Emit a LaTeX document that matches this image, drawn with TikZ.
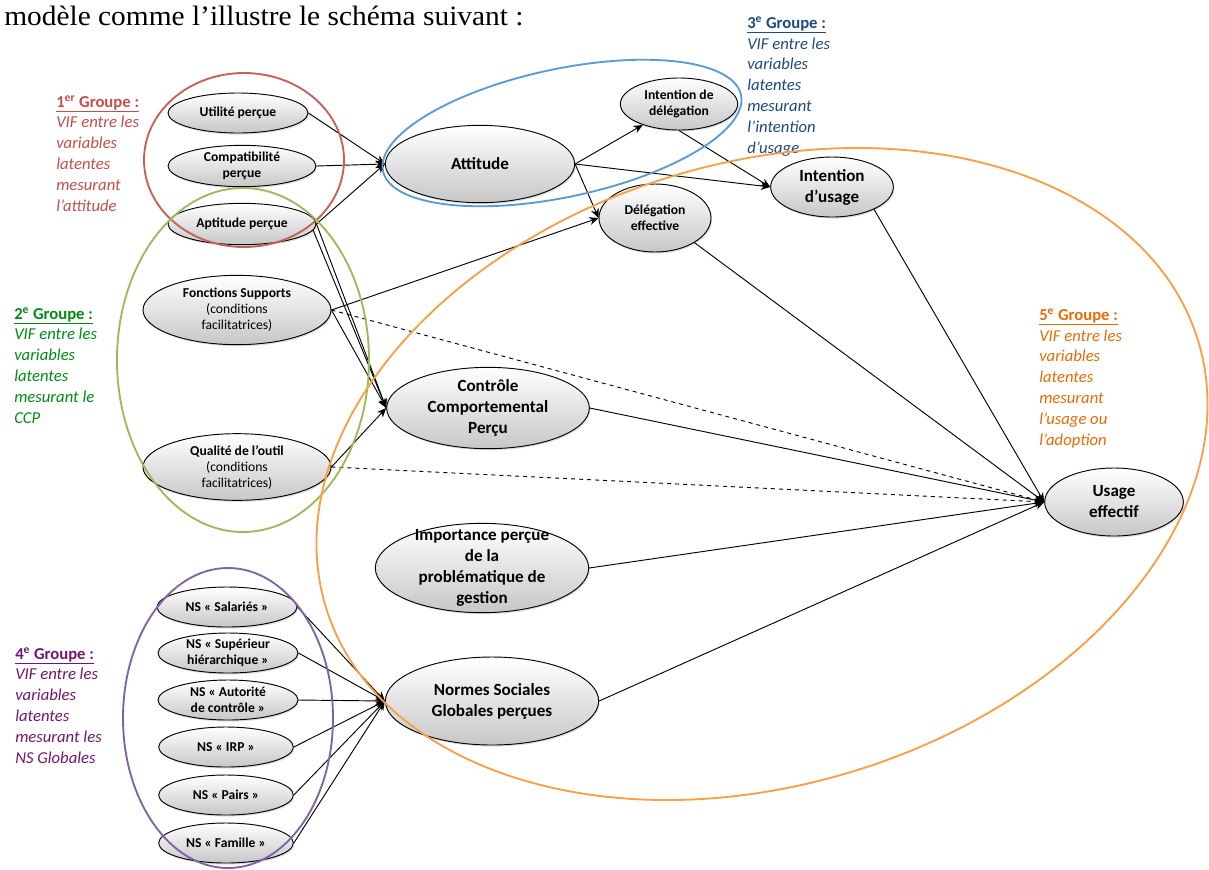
\documentclass[tikz,border=0pt]{standalone}
\usepackage{fontspec}
\setmainfont{Carlito}
\newfontfamily\headfont[FakeStretch=1.05]{Liberation Serif}
\usepackage{tikz}
\usetikzlibrary{arrows.meta,shapes.geometric,shadows}

\definecolor{grpA}{RGB}{192,80,77}
\definecolor{grpAline}{RGB}{200,95,90}
\definecolor{grpB}{RGB}{0,140,20}
\definecolor{grpBline}{RGB}{155,187,89}
\definecolor{grpC}{RGB}{31,73,125}
\definecolor{grpCline}{RGB}{91,155,213}
\definecolor{grpD}{RGB}{112,24,112}
\definecolor{grpDline}{RGB}{128,100,162}
\definecolor{grpE}{RGB}{228,108,10}
\definecolor{grpEline}{RGB}{247,160,70}

\begin{document}
\begin{tikzpicture}[
  x=0.75pt, y=-0.75pt,
  var/.style={ellipse, draw, line width=0.7pt, top color=white, bottom color=black!22,
    drop shadow={opacity=0.25, shadow xshift=0.8pt, shadow yshift=-1.2pt},
    align=center, inner sep=0pt, font=\bfseries\fontsize{10.2}{12}\selectfont},
  bigvar/.style={var, font=\bfseries\fontsize{12.8}{15.75}\selectfont},
  grp/.style={anchor=base west, align=left, inner sep=0pt, font=\itshape\fontsize{12.5}{15.6}\selectfont},
  link/.style={-{Stealth[length=7pt,width=6pt]}, line width=0.7pt},
  group/.style={line width=1.4pt}
]
\useasboundingbox (0,0) rectangle (1209,869);

\node[anchor=base west, inner sep=0pt, font=\headfont\fontsize{21}{25}\selectfont] (title) at (4,25)
  {modèle comme l’illustre le schéma suivant :};

% group labels (placed by the baseline of their last line)
\node[grp, text=grpA] (labA) at (56,211) {{\upshape\bfseries\underline{1\textsuperscript{er} Groupe :}}\\VIF entre les\\variables\\latentes\\mesurant\\l’attitude};
\node[grp, text=grpB] (labB) at (14,423) {{\upshape\bfseries\underline{2\textsuperscript{e} Groupe :}}\\VIF entre les\\variables\\latentes\\mesurant le\\CCP};
\node[grp, text=grpC] (labC) at (747,153) {{\upshape\bfseries\underline{3\textsuperscript{e} Groupe :}}\\VIF entre les\\variables\\latentes\\mesurant\\l’intention\\d’usage};
\node[grp, text=grpD] (labD) at (15,763) {{\upshape\bfseries\underline{4\textsuperscript{e} Groupe :}}\\VIF entre les\\variables\\latentes\\mesurant les\\NS Globales};
\node[grp, text=grpE] (labE) at (1039,445) {{\upshape\bfseries\underline{5\textsuperscript{e} Groupe :}}\\VIF entre les\\variables\\latentes\\mesurant\\l’usage ou\\l’adoption};

% latent variables
\node[var, minimum width=105pt, minimum height=30pt] (util) at (238,113) {Utilité perçue};
\node[var, minimum width=111pt, minimum height=31pt] (compat) at (242,166) {Compatibilité\\perçue};
\node[var, minimum width=111pt, minimum height=31pt] (apt) at (242,224) {Aptitude perçue};
\node[var, minimum width=141pt, minimum height=52pt] (fs) at (237,310) {Fonctions Supports\\\mdseries(conditions\\\mdseries facilitatrices)};
\node[var, minimum width=141pt, minimum height=50pt] (qual) at (237,467) {Qualité de l’outil\\\mdseries(conditions\\\mdseries facilitatrices)};

\node[bigvar, minimum width=142pt, minimum height=58pt] (att) at (480,164) {Attitude};
\node[var, minimum width=88pt, minimum height=39pt] (intdel) at (679,104) {Intention de\\délégation};
\node[bigvar, minimum width=92pt, minimum height=45pt] (intus) at (832,187) {Intention\\d’usage};
\node[var, minimum width=84pt, minimum height=51pt] (deleg) at (655,218) {Délégation\\effective};
\node[bigvar, minimum width=152pt, minimum height=61pt] (ccp) at (488,408) {Contrôle\\Comportemental\\Perçu};
\node[bigvar, minimum width=160pt, minimum height=67pt, inner ysep=-7pt] (imp) at (482,568) {Importance perçue\\de la\\problématique de\\gestion};
\node[bigvar, minimum width=160pt, minimum height=66pt] (nsg) at (492,701) {Normes Sociales\\Globales perçues};
\node[bigvar, minimum width=104pt, minimum height=51pt] (usage) at (1114,502) {Usage\\effectif};

\node[var, minimum width=105pt, minimum height=30pt] (nsA) at (227,607) {NS « Salariés »};
\node[var, minimum width=105pt, minimum height=30pt, inner ysep=-1pt] (nsB) at (228,653) {NS « Supérieur\\hiérarchique »};
\node[var, minimum width=105pt, minimum height=30pt, inner ysep=-1pt] (nsC) at (228,700) {NS « Autorité\\de contrôle »};
\node[var, minimum width=101pt, minimum height=30pt] (nsD) at (226,747) {NS « IRP »};
\node[var, minimum width=101pt, minimum height=30pt] (nsE) at (226,795) {NS « Pairs »};
\node[var, minimum width=101pt, minimum height=30pt] (nsF) at (226,843) {NS « Famille »};

% links
\draw[link] (util.east) -- (att.west);
\draw[link] (compat.east) -- (att.west);
\draw[link] (apt.east) -- (att.west);
\draw[link] (apt.east) -- (ccp.west);
\draw[link] (apt.-5) -- (ccp.west);
\draw[link] (fs.east) -- (deleg.west);
\draw[link] (fs.east) -- (ccp.west);
\draw[link, dashed] (fs.east) -- (usage.west);
\draw[link] (qual.east) -- (ccp.west);
\draw[link, dashed] (qual.east) -- (usage.west);
\draw[link] (att.east) -- (intdel);
\draw[link] (att.east) -- (intus.west);
\draw[link] (att.east) -- (deleg.west);
\draw[link] (intdel.south) -- (intus.west);
\draw[link] (intus.-28) -- (usage.west);
\draw[link] (deleg.-32) -- (usage.west);
\draw[link] (ccp.east) -- (usage.west);
\draw[link] (imp.east) -- (usage.west);
\draw[link] (nsg.east) -- (usage.west);
\draw[link] (nsA.east) -- (nsg.west);
\draw[link] (nsB.east) -- (nsg.west);
\draw[link] (nsC.east) -- (nsg.west);
\draw[link] (nsD.east) -- (nsg.west);
\draw[link] (nsE.east) -- (nsg.west);
\draw[link] (nsF.east) -- (nsg.west);

% groups
\draw[group, grpAline] (244,160) ellipse [x radius=100, y radius=87];
\draw[group, grpBline] (243,360) ellipse [x radius=126, y radius=172];
\draw[group, grpCline, rotate around={12:(562,133)}] (562,133) ellipse [x radius=183, y radius=64];
\draw[group, grpDline] (228,718) ellipse [x radius=105, y radius=150];
\draw[group, grpEline, rotate around={17:(762,474)}] (762,474) ellipse [x radius=456, y radius=311];
\end{tikzpicture}
\end{document}
